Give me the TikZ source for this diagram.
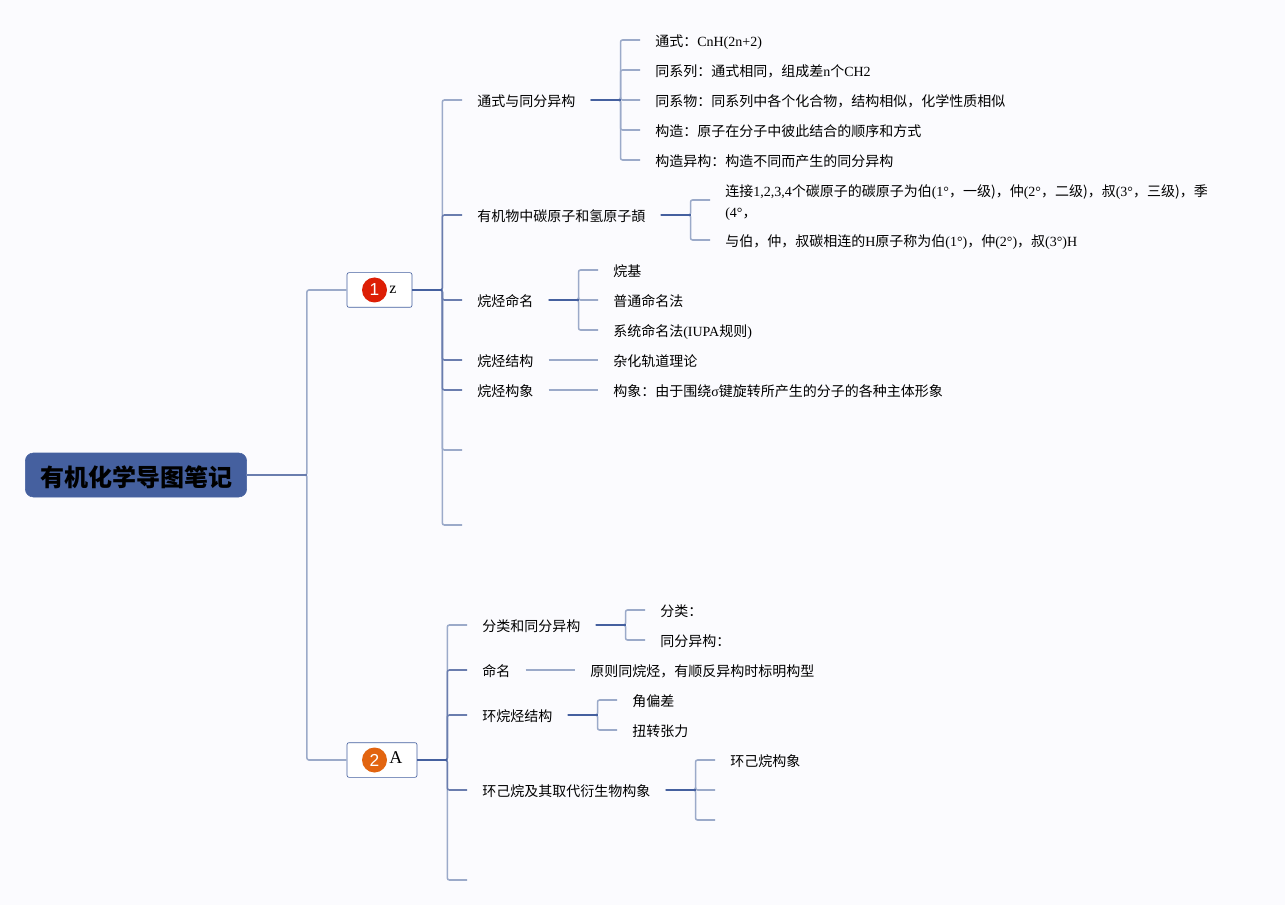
\documentclass[tikz,border=0pt]{standalone}
\usepackage{fontspec}
\setmainfont{Liberation Serif}
\newfontfamily\zhfont{Noto Sans CJK SC}
\newfontfamily\iconfont{Liberation Sans}
\newcommand{\zh}[1]{{\zhfont #1}}
\definecolor{bgc}{HTML}{FBFBFE}
\definecolor{navy}{HTML}{45609F}
\definecolor{midl}{HTML}{6A7DAE}
\definecolor{lite}{HTML}{9BAAC9}
\definecolor{iconred}{HTML}{DD1E05}
\definecolor{iconorange}{HTML}{E2640F}
\def\gap{22.5pt}
\tikzset{
  x=0.75pt,y=-0.75pt,
  item/.style={anchor=west,inner xsep=11.25pt,inner ysep=0pt,text height=11pt,text depth=1.55pt,
    font=\fontsize{10.5}{15.5}\selectfont,text=black},
  para/.style={anchor=west,inner xsep=11.25pt,inner ysep=0pt,align=left,
    font=\fontsize{10.5}{15.5}\selectfont,text=black},
  rootbox/.style={draw=navy,fill=navy,rounded corners=6pt,minimum width=166pt,minimum height=33pt,inner sep=0pt,
    text height=19pt,text depth=2pt,
    font=\fontsize{18}{22}\selectfont\zhfont\bfseries,text=black},
  topicbox/.style={draw=navy,fill=white,line width=0.5pt,rounded corners=1.5pt,minimum height=26pt,inner sep=0pt},
  iconball/.style={circle,minimum size=18.75pt,inner sep=0pt,text=white,font=\fontsize{13}{13}\selectfont\iconfont},
  boxtext/.style={inner sep=0pt,font=\fontsize{12}{12}\selectfont,text=black},
  far/.style={draw=lite,line width=1.15pt,rounded corners=1.5pt},
  mid/.style={draw=midl,line width=1.15pt,rounded corners=1.5pt},
  exit/.style={draw=navy,line width=1.3pt},
}
\newcommand{\branch}[3]{\draw[#1] (#2.east) -- ([xshift=\gap]#2.east) |- (#3);}
\newcommand{\outlet}[1]{\draw[exit] (#1.east) -- ([xshift=\gap]#1.east);}
\begin{document}
\begin{tikzpicture}
\useasboundingbox (0,0) rectangle (1285,905);
\fill[bgc] (0,0) rectangle (1285,905);

% Root and main topics
\node[rootbox] (root) at (136,475) {有机化学导图笔记};
\node[topicbox,minimum width=48.75pt] (zbox) at (379.5,290) {};
\node[iconball,fill=iconred] (zicon) at (374.5,290) {1};
\node[boxtext,anchor=base west] (zlab) at (389,294) {z};
\node[topicbox,minimum width=52.5pt] (abox) at (382,760) {};
\node[iconball,fill=iconorange] (aicon) at (374.5,760) {2};
\node[boxtext,anchor=base west,font=\fontsize{13.5}{13.5}\selectfont] (alab) at (389,763) {A};

% Level 2 under z
\node[item] (a1) at (462,100) {\zh{通式与同分异构}};
\node[item] (a2) at (462,215) {\zh{有机物中碳原子和氢原子頡}};
\node[item] (a3) at (462,300) {\zh{烷烃命名}};
\node[item] (a4) at (462,360) {\zh{烷烃结构}};
\node[item] (a5) at (462,390) {\zh{烷烃构象}};
\coordinate (a6) at (462,450);
\coordinate (a7) at (462,525);

% Level 3
\node[item] (a11) at (640,40) {\zh{通式：}CnH(2n+2)};
\node[item] (a12) at (640,70) {\zh{同系列：通式相同，组成差}n\zh{个}CH2};
\node[item] (a13) at (640,100) {\zh{同系物：同系列中各个化合物，结构相似，化学性质相似}};
\node[item] (a14) at (640,130) {\zh{构造：原子在分子中彼此结合的顺序和方式}};
\node[item] (a15) at (640,160) {\zh{构造异构：构造不同而产生的同分异构}};
\node[para] (a21) at (710,200) {\rule{0pt}{12.5pt}\zh{连接}1,2,3,4\zh{个碳原子的碳原子为伯}(1°\zh{，一级)，仲}(2°\zh{，二级)，叔}(3°\zh{，三级)，季}\\(4°\zh{，}};
\node[item] (a22) at (710,240) {\zh{与伯，仲，叔碳相连的}H\zh{原子称为伯}(1°)\zh{，仲}(2°)\zh{，叔}(3°)H};
\node[item] (a31) at (598,270) {\zh{烷基}};
\node[item] (a32) at (598,300) {\zh{普通命名法}};
\node[item] (a33) at (598,330) {\zh{系统命名法}(IUPA\zh{规则})};
\node[item] (a41) at (598,360) {\zh{杂化轨道理论}};
\node[item] (a51) at (598,390) {\zh{构象：由于围绕}σ\zh{键旋转所产生的分子的各种主体形象}};

% Level 2 under A
\node[item] (b1) at (467,625) {\zh{分类和同分异构}};
\node[item] (b2) at (467,670) {\zh{命名}};
\node[item] (b3) at (467,715) {\zh{环烷烃结构}};
\node[item] (b4) at (467,790) {\zh{环己烷及其取代衍生物构象}};
\coordinate (b5) at (467,880);

\node[item] (b11) at (645,610) {\zh{分类：}};
\node[item] (b12) at (645,640) {\zh{同分异构：}};
\node[item] (b21) at (575,670) {\zh{原则同烷烃，有顺反异构时标明构型}};
\node[item] (b31) at (617,700) {\zh{角偏差}};
\node[item] (b32) at (617,730) {\zh{扭转张力}};
\node[item] (b41) at (715,760) {\zh{环己烷构象}};
\coordinate (b42) at (715,790);
\coordinate (b43) at (715,820);

% Connectors: far ones first so the nearer, darker ones lie on top
\draw[far] (root.east) -- ([xshift=45pt]root.east) |- (zbox.west);
\draw[far] (root.east) -- ([xshift=45pt]root.east) |- (abox.west);
\draw[draw=midl,line width=1.3pt] (root.east) -- ([xshift=45pt]root.east);

\branch{far}{zbox}{a1.west}
\branch{far}{zbox}{a7}
\branch{far}{zbox}{a6}
\branch{mid}{zbox}{a2.west}
\branch{mid}{zbox}{a5.west}
\branch{mid}{zbox}{a4.west}
\branch{mid}{zbox}{a3.west}
\outlet{zbox}

\branch{far}{a1}{a11.west}
\branch{far}{a1}{a15.west}
\branch{far}{a1}{a12.west}
\branch{far}{a1}{a14.west}
\branch{far}{a1}{a13.west}
\outlet{a1}

\branch{far}{a2}{a21.west}
\branch{far}{a2}{a22.west}
\outlet{a2}

\branch{far}{a3}{a31.west}
\branch{far}{a3}{a33.west}
\branch{far}{a3}{a32.west}
\outlet{a3}

\draw[far] (a4.east) -- (a41.west);
\draw[far] (a5.east) -- (a51.west);

\branch{far}{abox}{b1.west}
\branch{far}{abox}{b5}
\branch{mid}{abox}{b2.west}
\branch{mid}{abox}{b3.west}
\branch{mid}{abox}{b4.west}
\outlet{abox}

\branch{far}{b1}{b11.west}
\branch{far}{b1}{b12.west}
\outlet{b1}

\draw[far] (b2.east) -- (b21.west);

\branch{far}{b3}{b31.west}
\branch{far}{b3}{b32.west}
\outlet{b3}

\branch{far}{b4}{b41.west}
\branch{far}{b4}{b43}
\branch{far}{b4}{b42}
\outlet{b4}
\end{tikzpicture}
\end{document}
